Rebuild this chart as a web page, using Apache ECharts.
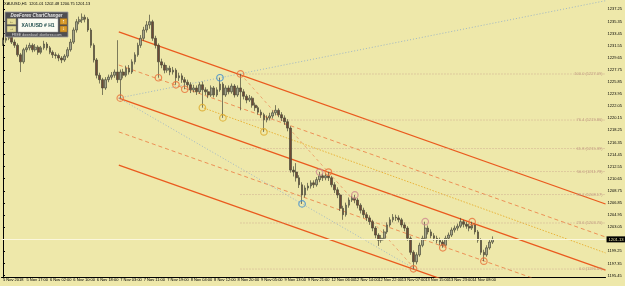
<!DOCTYPE html>
<html>
<head>
<meta charset="utf-8">
<title>XAUUSD,H1</title>
<script src="https://cdn.jsdelivr.net/npm/echarts@6/dist/echarts.min.js"></script>
<style>
html, body { margin: 0; padding: 0; background: #eee8aa; }
#chart { width: 625px; height: 286px; }
</style>
</head>
<body>
<div id="chart"></div>
<script>
// time labels, one every 8 bars
const timeLabels = ['5 Nov 2018', '5 Nov 17:00', '6 Nov 02:00', '6 Nov 10:00', '6 Nov 18:00', '7 Nov 03:00',
  '7 Nov 11:00', '7 Nov 19:00', '8 Nov 04:00', '8 Nov 12:00', '8 Nov 20:00', '9 Nov 05:00', '9 Nov 13:00',
  '9 Nov 21:00', '12 Nov 06:00', '12 Nov 14:00', '12 Nov 22:00', '13 Nov 07:00', '13 Nov 15:00',
  '13 Nov 23:00', '14 Nov 08:00'];
const barsPerLabel = 8;
const slotCount = 206; // bars + empty space on the right (chart shift)

// [open, close, low, high]
const candles = [
  [1231.8, 1232.4, 1231.5, 1232.8], [1232.4, 1232.7, 1232.0, 1233.1], [1232.7, 1233.2, 1232.4, 1233.6],
  [1233.2, 1232.1, 1231.8, 1233.5], [1232.1, 1231.6, 1231.2, 1232.5], [1231.6, 1230.1, 1229.8, 1231.9],
  [1230.1, 1229.0, 1227.4, 1230.4], [1229.0, 1230.9, 1228.7, 1231.2], [1230.9, 1231.2, 1230.5, 1231.7],
  [1231.2, 1231.6, 1230.8, 1232.0], [1231.6, 1230.9, 1230.5, 1231.9], [1230.9, 1231.3, 1230.6, 1231.8],
  [1231.3, 1230.5, 1230.1, 1231.6], [1230.5, 1231.2, 1230.2, 1231.5], [1231.2, 1231.8, 1230.9, 1232.3],
  [1231.8, 1231.2, 1230.8, 1232.1], [1231.2, 1230.5, 1230.2, 1231.5], [1230.5, 1230.1, 1229.6, 1230.8],
  [1230.1, 1230.0, 1229.5, 1230.5], [1230.0, 1229.6, 1229.1, 1230.3], [1229.6, 1229.3, 1228.8, 1229.9],
  [1229.3, 1229.9, 1229.0, 1230.2], [1229.9, 1230.9, 1229.6, 1231.3], [1230.9, 1232.1, 1230.6, 1232.6],
  [1232.1, 1234.0, 1231.8, 1234.4], [1234.0, 1235.3, 1233.6, 1235.7], [1235.3, 1235.6, 1234.9, 1236.1],
  [1235.6, 1236.0, 1235.1, 1236.6], [1236.0, 1235.7, 1235.2, 1236.4], [1235.7, 1234.0, 1233.7, 1236.0],
  [1234.0, 1231.6, 1231.2, 1234.3], [1231.6, 1229.3, 1228.9, 1231.9], [1229.3, 1226.9, 1226.4, 1229.6],
  [1226.9, 1226.2, 1225.6, 1227.3], [1226.2, 1224.9, 1223.8, 1226.5], [1224.9, 1226.2, 1224.6, 1226.6],
  [1226.2, 1226.6, 1225.8, 1227.0], [1226.6, 1226.9, 1226.2, 1227.4], [1226.9, 1227.4, 1226.5, 1227.8],
  [1227.4, 1226.2, 1225.7, 1232.4], [1226.2, 1227.4, 1223.3, 1227.8], [1227.4, 1226.9, 1226.4, 1227.9],
  [1226.9, 1228.0, 1226.6, 1228.4], [1228.0, 1227.4, 1227.0, 1228.5], [1227.4, 1229.0, 1227.1, 1229.4],
  [1229.0, 1230.1, 1228.6, 1230.5], [1230.1, 1231.6, 1229.8, 1232.0], [1231.6, 1232.7, 1231.2, 1233.2],
  [1232.7, 1234.0, 1232.3, 1234.5], [1234.0, 1234.8, 1233.6, 1235.4], [1234.8, 1235.3, 1234.2, 1236.4],
  [1235.3, 1232.7, 1232.3, 1235.6], [1232.7, 1231.6, 1231.1, 1233.1], [1231.6, 1229.0, 1226.5, 1231.9],
  [1229.0, 1228.5, 1228.0, 1229.5], [1228.5, 1227.7, 1227.2, 1228.9], [1227.7, 1228.0, 1227.3, 1228.5],
  [1228.0, 1227.4, 1226.9, 1228.4], [1227.4, 1227.7, 1227.0, 1228.2], [1227.7, 1226.5, 1225.4, 1228.0],
  [1226.5, 1226.8, 1226.0, 1227.3], [1226.8, 1226.2, 1225.7, 1227.2], [1226.2, 1225.8, 1224.7, 1226.6],
  [1225.8, 1225.4, 1224.9, 1226.2], [1225.4, 1224.6, 1224.1, 1225.8], [1224.6, 1224.9, 1224.2, 1225.4],
  [1224.9, 1224.3, 1223.8, 1225.3], [1224.3, 1225.4, 1224.0, 1225.8], [1225.4, 1224.6, 1221.8, 1225.9],
  [1224.6, 1224.3, 1223.8, 1225.0], [1224.3, 1223.8, 1223.3, 1224.7], [1223.8, 1224.9, 1223.5, 1225.3],
  [1224.9, 1223.8, 1223.4, 1225.2], [1223.8, 1224.6, 1223.5, 1225.0], [1224.6, 1225.5, 1224.3, 1226.5],
  [1225.5, 1223.8, 1220.2, 1225.8], [1223.8, 1224.9, 1223.5, 1225.3], [1224.9, 1224.3, 1223.9, 1225.3],
  [1224.3, 1225.2, 1224.0, 1225.6], [1225.2, 1223.8, 1223.4, 1225.5], [1223.8, 1224.9, 1223.5, 1225.3],
  [1224.9, 1224.3, 1221.4, 1227.1], [1224.3, 1223.6, 1223.1, 1224.7], [1223.6, 1223.0, 1222.5, 1223.9],
  [1223.0, 1223.3, 1222.7, 1223.8], [1223.3, 1222.2, 1221.8, 1223.6], [1222.2, 1221.8, 1221.3, 1222.6],
  [1221.8, 1221.1, 1220.7, 1222.1], [1221.1, 1220.7, 1220.2, 1221.5], [1220.7, 1219.9, 1218.0, 1221.0],
  [1219.9, 1220.2, 1219.5, 1220.6], [1220.2, 1220.5, 1219.8, 1221.0], [1220.5, 1221.0, 1220.1, 1221.4],
  [1221.0, 1221.4, 1220.6, 1222.2], [1221.4, 1220.7, 1220.3, 1221.7], [1220.7, 1220.2, 1219.7, 1221.1],
  [1220.2, 1219.6, 1219.1, 1220.6], [1219.6, 1218.6, 1218.1, 1220.0], [1218.6, 1212.0, 1211.6, 1218.9],
  [1212.0, 1211.7, 1211.0, 1212.6], [1211.7, 1210.8, 1210.2, 1213.1], [1210.8, 1209.7, 1209.2, 1211.2],
  [1209.7, 1208.1, 1206.7, 1210.1], [1208.1, 1209.2, 1207.7, 1209.6], [1209.2, 1209.5, 1208.8, 1210.0],
  [1209.5, 1210.0, 1209.1, 1210.4], [1210.0, 1209.7, 1209.2, 1210.4], [1209.7, 1210.5, 1209.4, 1210.9],
  [1210.5, 1211.1, 1210.1, 1211.7], [1211.1, 1210.8, 1210.3, 1211.5], [1210.8, 1211.1, 1210.4, 1211.5],
  [1211.1, 1210.8, 1210.3, 1211.7], [1210.8, 1209.7, 1209.3, 1211.1], [1209.7, 1208.9, 1208.4, 1210.1],
  [1208.9, 1208.1, 1207.6, 1209.3], [1208.1, 1206.0, 1205.6, 1208.4], [1206.0, 1205.0, 1204.2, 1206.4],
  [1205.0, 1206.5, 1204.7, 1206.9], [1206.5, 1207.3, 1206.1, 1207.7], [1207.3, 1207.6, 1207.0, 1208.0],
  [1207.6, 1207.3, 1206.8, 1208.1], [1207.3, 1206.5, 1206.0, 1207.6], [1206.5, 1205.7, 1205.2, 1206.8],
  [1205.7, 1205.0, 1204.5, 1206.1], [1205.0, 1204.5, 1204.0, 1205.4], [1204.5, 1203.9, 1203.4, 1204.9],
  [1203.9, 1202.9, 1202.4, 1204.2], [1202.9, 1201.8, 1201.3, 1203.2], [1201.8, 1201.0, 1200.1, 1202.1],
  [1201.0, 1201.3, 1200.6, 1201.8], [1201.3, 1202.3, 1201.0, 1202.7], [1202.3, 1203.4, 1202.0, 1203.8],
  [1203.4, 1204.2, 1203.1, 1204.6], [1204.2, 1204.6, 1203.8, 1205.1], [1204.6, 1204.5, 1204.0, 1205.0],
  [1204.5, 1204.2, 1203.8, 1204.9], [1204.2, 1203.4, 1203.0, 1204.5], [1203.4, 1202.9, 1202.4, 1203.8],
  [1202.9, 1201.3, 1200.9, 1203.2], [1201.3, 1199.1, 1198.7, 1201.6], [1199.1, 1197.6, 1196.5, 1199.4],
  [1197.6, 1198.7, 1197.2, 1199.1], [1198.7, 1200.2, 1198.4, 1200.6], [1200.2, 1201.3, 1199.9, 1201.7],
  [1201.3, 1202.9, 1201.0, 1203.9], [1202.9, 1202.3, 1201.9, 1203.3], [1202.3, 1201.7, 1201.3, 1202.7],
  [1201.7, 1201.3, 1200.9, 1202.1], [1201.3, 1201.0, 1200.5, 1201.7], [1201.0, 1200.7, 1200.2, 1201.4],
  [1200.7, 1200.2, 1199.8, 1201.1], [1200.2, 1201.3, 1200.0, 1201.7], [1201.3, 1201.8, 1201.0, 1202.2],
  [1201.8, 1202.6, 1201.5, 1203.0], [1202.6, 1202.9, 1202.2, 1203.3], [1202.9, 1203.2, 1202.5, 1203.6],
  [1203.2, 1203.9, 1202.9, 1204.5], [1203.9, 1203.5, 1203.0, 1204.2], [1203.5, 1203.2, 1202.8, 1203.9],
  [1203.2, 1202.9, 1202.4, 1203.6], [1202.9, 1203.4, 1202.6, 1203.9], [1203.4, 1202.3, 1201.9, 1203.7],
  [1202.3, 1201.0, 1200.6, 1202.6], [1201.0, 1199.1, 1198.7, 1201.3], [1199.1, 1198.7, 1197.7, 1199.5],
  [1198.7, 1199.8, 1198.4, 1200.2], [1199.8, 1200.7, 1199.5, 1201.1], [1200.7, 1201.13, 1200.4, 1201.6]
];

const priceMin = 1195.22;
const priceMax = 1238.71;
const priceTicks = [1195.45, 1197.35, 1199.25, 1203.05, 1204.95, 1206.85, 1208.75, 1210.65, 1212.55,
  1214.45, 1216.35, 1218.25, 1220.15, 1222.05, 1223.95, 1225.85, 1227.75, 1229.65, 1231.55, 1233.45,
  1235.35, 1237.25];
const lastPrice = 1201.13;

// objects drawn on the chart: [bar index, price]
const channelUpper = [[39.5, 1233.69], [205.5, 1206.68]];
const channelMiddle = [[39.5, 1223.32], [205.5, 1196.31]];
const channelLower = [[39.5, 1212.80], [205.5, 1185.79]];
const medianUpper = [[39.5, 1228.50], [205.5, 1201.50]];
const medianLower = [[39.5, 1218.00], [205.5, 1191.00]];
const fibDiagonal = [[81, 1227.09], [140.5, 1196.47]];
const blueUp = [[39.5, 1223.32], [205.5, 1238.60]];
const blueDown = [[39.5, 1223.32], [140.5, 1196.47]];
const yellowTrend = [[68.5, 1221.75], [205.5, 1199.00]];

const fibStart = 81;
const fibLevels = ['0.0', '23.6', '38.2', '50.0', '61.8', '76.4', '100.0'];
const fibPrices = [1196.47, 1203.70, 1208.17, 1211.78, 1215.39, 1219.86, 1227.09];

const orangePoints = [[40, 1223.3], [53, 1226.5], [59, 1225.4], [62, 1224.7], [81, 1227.1], [111, 1211.7],
  [140, 1196.5], [150, 1199.8], [160, 1203.9], [164, 1197.7]];
const yellowPoints = [[68, 1221.8], [75, 1220.2], [89, 1218.0]];
const bluePoints = [[74, 1226.5], [102, 1206.7]];
const pinkPoints = [[108, 1211.7], [120, 1208.1], [144, 1203.9]];

const FONT = 'Liberation Sans';
const chart = echarts.init(document.getElementById('chart'));

function trend(data, color, width, type, opacity) {
  return {
    type: 'line', xAxisIndex: 1, yAxisIndex: 0, data: data, showSymbol: false, silent: true,
    clip: true, animation: false, z: 3,
    lineStyle: {color: color, width: width, type: type, opacity: opacity === undefined ? 1 : opacity}
  }
}

function points(data, color) {
  return {
    type: 'scatter', xAxisIndex: 1, yAxisIndex: 0, data: data, symbol: 'circle', symbolSize: 6.5,
    silent: true, z: 5,
    itemStyle: {color: 'rgba(0,0,0,0)', borderColor: color, borderWidth: 1.2}
  }
}

const series = [
  {
    type: 'candlestick',
    data: candles,
    barWidth: 2.2,
    z: 4,
    itemStyle: {
      color: '#a6a68c', color0: '#6e4a36',
      borderColor: '#4a4a3a', borderColor0: '#4a4a3a', borderWidth: 0.7
    },
    markLine: {
      silent: true, symbol: 'none', animation: false,
      data: [{yAxis: lastPrice}],
      lineStyle: {color: '#fbf7dc', width: 1, type: 'solid'},
      label: {
        position: 'end', formatter: lastPrice.toFixed(2), fontFamily: FONT, fontSize: 4.2,
        color: '#eee8aa', backgroundColor: '#000', padding: [1, 2], distance: 1
      }
    }
  },
  trend(channelUpper, '#ea5a1e', 1.3, 'solid'),
  trend(channelMiddle, '#ea5a1e', 1.3, 'solid'),
  trend(channelLower, '#ea5a1e', 1.3, 'solid'),
  trend(medianUpper, '#ec7a40', 0.8, [4, 3]),
  trend(medianLower, '#ec7a40', 0.8, [4, 3]),
  trend(fibDiagonal, '#ec8a58', 0.7, [3, 3]),
  trend(blueUp, '#8aaacc', 0.8, [1, 2]),
  trend(blueDown, '#8aaacc', 0.8, [1, 2]),
  trend(yellowTrend, '#eab43a', 1, [1.5, 1.5]),
  points(orangePoints, '#e8703a'),
  points(yellowPoints, '#dcaa2a'),
  points(bluePoints, '#3c8cd0'),
  points(pinkPoints, '#d08a90')
];

fibPrices.forEach(function (p) {
  series.push(trend([[fibStart, p], [205.5, p]], '#c8a08c', 0.8, [1, 2]));
});

series.push({
  type: 'scatter', xAxisIndex: 1, yAxisIndex: 0, symbolSize: 0, silent: true, z: 6,
  data: fibPrices.map(function (p, k) {
    return {value: [204.5, p], label: {formatter: fibLevels[k] + ' (' + p.toFixed(2) + ')'}};
  }),
  label: {show: true, position: 'left', distance: 0, fontFamily: FONT, fontSize: 4, color: '#b88a7a'}
});

chart.setOption({
  backgroundColor: '#eee8aa',
  animation: false,
  grid: {left: 0, right: 18, top: 0, bottom: 9},
  xAxis: [
    {
      type: 'category',
      data: Array.from({length: slotCount}, function (_, i) { return String(i) }),
      boundaryGap: true,
      axisLine: {lineStyle: {color: '#000', width: 1}},
      axisTick: {
        alignWithLabel: true, length: 2, lineStyle: {color: '#000'},
        interval: function (i) { return i % barsPerLabel === 0 && i / barsPerLabel < timeLabels.length }
      },
      axisLabel: {
        interval: 0, margin: 1, align: 'left', fontFamily: FONT, fontSize: 4, color: '#000',
        formatter: function (v, i) {
          return i % barsPerLabel === 0 ? (timeLabels[i / barsPerLabel] || '') : ''
        }
      },
      splitLine: {show: false}
    },
    {type: 'value', min: -0.5, max: slotCount - 0.5, show: false}
  ],
  yAxis: {
    type: 'value', position: 'right', min: priceMin, max: priceMax, scale: true,
    axisLine: {show: true, lineStyle: {color: '#000', width: 1}},
    axisTick: {show: true, length: 2, customValues: priceTicks, lineStyle: {color: '#000'}},
    axisLabel: {
      customValues: priceTicks, margin: 2, fontFamily: FONT, fontSize: 4, color: '#000',
      formatter: function (v) { return v.toFixed(2) }
    },
    splitLine: {show: false}
  },
  graphic: [
    {type: 'text', x: 4, y: 2, z: 10,
      style: {text: 'XAUUSD,H1  1201.01 1202.48 1200.75 1201.13', font: '4px ' + FONT, fill: '#000'}},
    {type: 'rect', x: 5, y: 12, z: 10, shape: {width: 63, height: 25},
      style: {fill: '#4e4e52', stroke: '#a0a0a0', lineWidth: 0.8}},
    {type: 'text', x: 36.5, y: 15.5, z: 11,
      style: {text: 'DoeForex ChartChanger', font: 'italic bold 4.5px ' + FONT, fill: '#e8e8e8',
        align: 'center', verticalAlign: 'middle'}},
    {type: 'rect', x: 7, y: 18.5, z: 11, shape: {width: 9, height: 6},
      style: {fill: '#e4dc96', stroke: '#8a8460', lineWidth: 0.5}},
    {type: 'rect', x: 7, y: 26, z: 11, shape: {width: 9, height: 6},
      style: {fill: '#e4dc96', stroke: '#8a8460', lineWidth: 0.5}},
    {type: 'text', x: 11.5, y: 21.5, z: 12,
      style: {text: '\u2190', font: 'bold 5px ' + FONT, fill: '#6a6440', align: 'center', verticalAlign: 'middle'}},
    {type: 'text', x: 11.5, y: 29, z: 12,
      style: {text: '\u2192', font: 'bold 5px ' + FONT, fill: '#6a6440', align: 'center', verticalAlign: 'middle'}},
    {type: 'rect', x: 18, y: 18.5, z: 11, shape: {width: 40, height: 13.5},
      style: {fill: '#fbfbf2', stroke: '#a0a0a0', lineWidth: 0.5}},
    {type: 'text', x: 38, y: 25.5, z: 12,
      style: {text: 'XAUUSD # H1', font: 'bold 5px ' + FONT, fill: '#1c4a4a', align: 'center', verticalAlign: 'middle'}},
    {type: 'rect', x: 60, y: 18.5, z: 11, shape: {width: 7, height: 6},
      style: {fill: '#d89a2a', stroke: '#8a6020', lineWidth: 0.5}},
    {type: 'rect', x: 60, y: 26, z: 11, shape: {width: 7, height: 6},
      style: {fill: '#d89a2a', stroke: '#8a6020', lineWidth: 0.5}},
    {type: 'text', x: 63.5, y: 21.5, z: 12,
      style: {text: '\u2191', font: 'bold 5px ' + FONT, fill: '#fff', align: 'center', verticalAlign: 'middle'}},
    {type: 'text', x: 63.5, y: 29, z: 12,
      style: {text: '\u2193', font: 'bold 5px ' + FONT, fill: '#fff', align: 'center', verticalAlign: 'middle'}},
    {type: 'text', x: 36.5, y: 34.5, z: 11,
      style: {text: 'FREE download: doeforex.com', font: '3.6px ' + FONT, fill: '#d8d8d8',
        align: 'center', verticalAlign: 'middle'}}
  ],
  series: series
});
</script>
</body>
</html>
